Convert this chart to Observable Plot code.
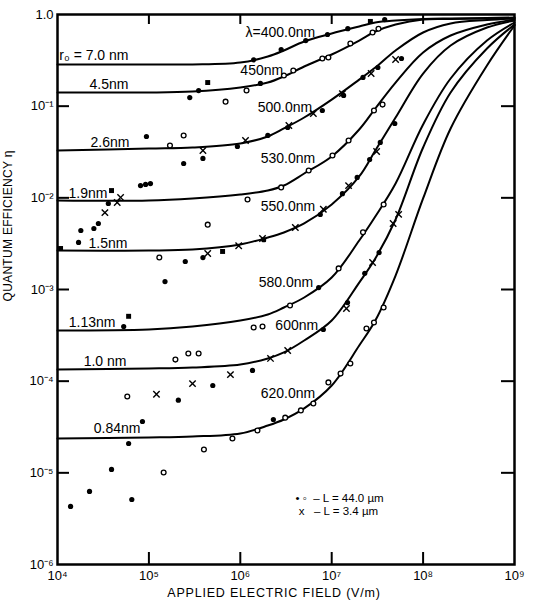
<!DOCTYPE html>
<html>
<head>
<meta charset="utf-8">
<script src="https://cdn.jsdelivr.net/npm/d3@7"></script>
<script src="https://cdn.jsdelivr.net/npm/@observablehq/plot@0.6"></script>
<style>
  html, body { margin: 0; padding: 0; background: #fff; }
  #chart svg { display: block; }
</style>
</head>
<body>
<div id="chart"></div>
<script>
// Applied electric field (V/m) at which each Onsager curve is sampled
const fields = [1e4, 1e5, 3e5, 1e6, 2e6, 3e6, 5e6, 1e7, 2e7, 3e7, 5e7, 1e8, 2e8, 5e8, 1e9];

// Quantum efficiency along each curve (one array per thermalization radius r0)
const eta_r70  = [0.285, 0.285, 0.285, 0.299, 0.348, 0.405, 0.508, 0.62, 0.74, 0.818, 0.86, 0.893, 0.905, 0.916, 0.927];
const eta_r45  = [0.141, 0.141, 0.1445, 0.16, 0.181, 0.211, 0.271, 0.366, 0.52, 0.652, 0.778, 0.882, 0.893, 0.905, 0.916];
const eta_r26  = [0.0328, 0.0345, 0.0354, 0.0392, 0.0467, 0.0571, 0.0752, 0.118, 0.195, 0.264, 0.405, 0.636, 0.798, 0.871, 0.905];
const eta_r19  = [0.00935, 0.00935, 0.00984, 0.01087, 0.01202, 0.01363, 0.01842, 0.02825, 0.0556, 0.0943, 0.181, 0.385, 0.59, 0.778, 0.882];
const eta_r15  = [0.00266, 0.00266, 0.00273, 0.0031, 0.00369, 0.00419, 0.00525, 0.00846, 0.0171, 0.0328, 0.0752, 0.227, 0.459, 0.721, 0.86];
const eta_r113 = [3.57e-4, 3.66e-4, 3.95e-4, 4.59e-4, 5.34e-4, 6.36e-4, 8.18e-4, 1.35e-3, 3.42e-3, 6.26e-3, 0.01433, 0.0631, 0.2003, 0.52, 0.818];
const eta_r10  = [1.34e-4, 1.375e-4, 1.41e-4, 1.52e-4, 1.77e-4, 2.06e-4, 2.78e-4, 4.59e-4, 1.19e-3, 2.18e-3, 5.8e-3, 0.0354, 0.141, 0.426, 0.778];
const eta_r084 = [2.37e-5, 2.43e-5, 2.49e-5, 2.69e-5, 3.28e-5, 3.82e-5, 5.04e-5, 8.97e-5, 2.45e-4, 4.59e-4, 1.42e-3, 9.84e-3, 0.0571, 0.278, 0.759];

// Curve labels: radius on the left, excitation wavelength along the rise
const radiusLabels = ["r\u2080 = 7.0 nm", "4.5nm", "2.6nm", "1.9nm", "1.5nm", "1.13nm", "1.0 nm", "0.84nm"];
const wavelengthLabels = ["\u03bb=400.0nm", "450nm", "500.0nm", "530.0nm", "550.0nm", "580.0nm", "600nm", "620.0nm"];

// Measured points [field V/m, efficiency]
// L = 44.0 µm, filled circles
const measFilled = [
  [1.4e6,0.32],[2.8e6,0.415],[5.2e6,0.52],[9.0e6,0.605],[1.5e7,0.70],[3.8e7,0.88],
  [3.5e5,0.148],[2.8e5,0.124],[1.66e6,0.177],
  [9.4e4,0.0467],[3.9e5,0.0269],[2.4e5,0.0237],[9.3e5,0.0363],[2.0e6,0.0479],[3.3e6,0.0585],
  [7.9e6,0.0897],[1.35e7,0.131],[2.2e7,0.206],[3.2e7,0.264],[5.8e7,0.331],
  [8.1e4,0.0136],[9.2e4,0.014],[1.04e5,0.0143],
  [3.6e4,0.00867],[1.8e4,0.0044],[2.5e4,0.00463],[2.8e4,0.00525],[1.7e4,0.00326],
  [2.5e5,0.00202],[3.9e5,0.00223],[1.5e5,0.00122],
  [5.3e4,3.95e-4],[1.36e6,1.31e-4],[5.0e5,8.97e-5],[2.1e5,6.2e-5],
  [8.5e4,3.63e-5],[6.0e4,2.09e-5],[3.9e4,1.09e-5],[2.24e4,6.27e-6],[6.5e4,5.12e-6],[1.39e4,4.3e-6],
  [7.2e6,1.05e-3],[8.1e6,3.66e-4],[1.49e7,7.2e-4],[2.3e7,1.5e-3],[3.3e7,2.53e-3],[2.3e6,3.82e-5],
  [1.8e6,3.5e-3],[7.5e6,6.58e-3],[1.31e7,0.0111],[1.9e7,0.0167],[2.6e7,0.0262],[3.4e7,0.0402],[4.9e7,0.0647]
];
// L = 44.0 µm, open circles
const measOpen = [
  [6.9e5,0.112],[1.17e6,0.148],[3.0e6,0.216],[3.8e6,0.245],[7.9e6,0.331],[9.2e6,0.34],
  [1.6e7,0.483],[2.8e7,0.636],[3.25e7,0.70],
  [2.4e5,0.0479],[1.7e5,0.0372],
  [4.4e5,5.1e-3],[1.2e6,9.6e-3],[1.3e5,2.23e-3],
  [2.8e6,0.013],[5.6e6,0.0199],[1.02e7,0.029],[1.53e7,0.0422],[2.9e7,0.0897],[3.6e7,0.104],
  [1.4e6,3.85e-4],[1.75e6,3.95e-4],[3.5e6,6.7e-4],[1.19e7,1.7e-3],[2.2e7,4.2e-3],[3.7e7,8.46e-3],
  [1.95e5,1.72e-4],[2.7e5,2.0e-4],[3.5e5,2.0e-4],
  [5.8e4,6.8e-5],
  [4.0e5,1.8e-5],[8.2e5,2.37e-5],[1.54e6,2.9e-5],[1.45e5,1.01e-5],
  [3.1e6,4.0e-5],[4.6e6,4.8e-5],[6.3e6,5.7e-5],[9.2e6,9.7e-5],[1.25e7,1.21e-4],[1.6e7,1.56e-4],
  [2.4e7,3.76e-4],[2.9e7,4.37e-4],[3.7e7,6.36e-4]
];
// L = 44.0 µm, filled squares
const measSquare = [
  [4.4e5,0.181],[2.65e7,0.84],[3.9e4,0.012],[1.08e4,2.8e-3],[6.4e5,2.6e-3],[6.0e4,5.1e-4]
];
// L = 3.4 µm, crosses
const measCross = [
  [3.9e5,0.0328],[1.14e6,0.0422],[3.4e6,0.0615],[6.3e6,0.0832],[1.31e7,0.137],[2.7e7,0.227],[5.0e7,0.323],
  [4.9e4,0.0101],[3.3e4,6.9e-3],[4.5e4,8.9e-3],
  [4.4e5,2.47e-3],[9.6e5,3.0e-3],[1.75e6,3.6e-3],[4.0e6,4.75e-3],[8.1e6,7.5e-3],[1.53e7,0.0136],[3.1e7,0.032],
  [7.8e5,1.18e-4],[2.14e6,1.77e-4],[3.3e6,2.16e-4],[1.45e7,6.2e-4],[2.8e7,1.97e-3],[4.7e7,5.25e-3],[5.4e7,6.6e-3],
  [3.0e5,9.4e-5],[1.21e5,7.2e-5]
];

// Axis ticks
const xTicks = [1e4, 1e5, 1e6, 1e7, 1e8, 1e9];
const yTicks = [1e-6, 1e-5, 1e-4, 1e-3, 1e-2, 1e-1, 1];
const xInnerTicks = [1e5, 1e6, 1e7, 1e8];
const yInnerTicks = [1e-5, 1e-4, 1e-3, 1e-2, 1e-1];

const legendLines = ["\u2022\u00a0\u25e6\u00a0\u00a0\u2013 L = 44.0 \u00b5m", "\u00a0x\u00a0\u00a0\u00a0\u2013 L = 3.4 \u00b5m"];
const xTitle = "APPLIED ELECTRIC FIELD (V/m)";
const yTitle = "QUANTUM EFFICIENCY \u03b7";

// ---- layout ----
const W = 537, H = 608;
const mTop = 14, mRight = 23, mBottom = 44, mLeft = 57;
const innerW = W - mLeft - mRight;
const innerH = H - mTop - mBottom;

const supMap = {"-": "\u207b", "0": "\u2070", "1": "\u00b9", "2": "\u00b2", "3": "\u00b3", "4": "\u2074",
  "5": "\u2075", "6": "\u2076", "7": "\u2077", "8": "\u2078", "9": "\u2079"};
const pow10 = d => "10" + String(Math.round(Math.log10(d))).split("").map(c => supMap[c]).join("");
const fmtY = d => d === 1 ? "1.0" : pow10(d);

const series = [eta_r70, eta_r45, eta_r26, eta_r19, eta_r15, eta_r113, eta_r10, eta_r084];
const curveRows = series.flatMap((vals, k) => fields.map((E, i) => ({curve: k, E, eta: vals[i]})));

// label offsets (px) from the anchoring curve point
const radiusOffsets = [[71, -9], [71, -8], [72, -8], [50, -7], [70, -7], [58, -8], [69, -8], [83, -10]];
const waveOffsets = [[11, -9], [-21, 4], [8, -10], [11, -15], [11, -17], [9, -15], [14, -15], [11, -15]];
const waveIdx = fields.indexOf(5e6);

const font = "'Liberation Sans', Arial, Helvetica, sans-serif";

const radiusText = series.map((vals, k) =>
  Plot.text([{E: fields[0], eta: vals[0], t: radiusLabels[k]}], {
    x: "E", y: "eta", text: "t", textAnchor: "end",
    dx: radiusOffsets[k][0], dy: radiusOffsets[k][1], fontSize: 14, fill: "#000"
  }));
const waveText = series.map((vals, k) =>
  Plot.text([{E: fields[waveIdx], eta: vals[waveIdx], t: wavelengthLabels[k]}], {
    x: "E", y: "eta", text: "t", textAnchor: "end",
    dx: waveOffsets[k][0], dy: waveOffsets[k][1], fontSize: 14, fill: "#000"
  }));

const chart = Plot.plot({
  width: W, height: H,
  marginTop: mTop, marginRight: mRight, marginBottom: mBottom, marginLeft: mLeft,
  style: {fontFamily: font, fontSize: "13px", color: "#000", background: "#fff"},
  x: {type: "log", domain: [1e4, 1e9]},
  y: {type: "log", domain: [1e-6, 1]},
  marks: [
    Plot.axisX({anchor: "bottom", ticks: xTicks, tickSize: 0, tickPadding: 6, tickFormat: pow10, label: null, fontSize: 13}),
    Plot.axisY({anchor: "left", ticks: yTicks, tickSize: 0, tickPadding: 4, tickFormat: fmtY, label: null, fontSize: 13}),
    // inward ticks on all four sides
    Plot.tickY(yInnerTicks, {y: d => d, insetRight: innerW - 12, strokeWidth: 2, stroke: "#000"}),
    Plot.tickY(yInnerTicks, {y: d => d, insetLeft: innerW - 13, strokeWidth: 2, stroke: "#000"}),
    Plot.tickX(xInnerTicks, {x: d => d, insetBottom: innerH - 10, strokeWidth: 2, stroke: "#000"}),
    Plot.tickX(xInnerTicks, {x: d => d, insetTop: innerH - 12, strokeWidth: 2, stroke: "#000"}),
    Plot.frame({stroke: "#000", strokeWidth: 2.5}),
    // theoretical curves
    Plot.line(curveRows, {x: "E", y: "eta", z: "curve", curve: "catmull-rom", stroke: "#000", strokeWidth: 2}),
    // measurements
    Plot.dot(measOpen, {x: d => d[0], y: d => d[1], r: 2.4, fill: "#fff", stroke: "#000", strokeWidth: 1.3}),
    Plot.dot(measFilled, {x: d => d[0], y: d => d[1], r: 2.6, fill: "#000", stroke: "none"}),
    Plot.dot(measSquare, {x: d => d[0], y: d => d[1], r: 2.8, symbol: "square", fill: "#000", stroke: "none"}),
    Plot.dot(measCross, {x: d => d[0], y: d => d[1], r: 3, symbol: "times", stroke: "#000", strokeWidth: 1.4}),
    ...radiusText,
    ...waveText,
    // legend, two lines
    Plot.text([legendLines[0]], {frameAnchor: "bottom-left", text: d => d, textAnchor: "start",
      dx: 238, dy: -63, fontSize: 11.5, fill: "#000"}),
    Plot.text([legendLines[1]], {frameAnchor: "bottom-left", text: d => d, textAnchor: "start",
      dx: 238, dy: -50, fontSize: 11.5, fill: "#000"}),
    // axis titles
    Plot.text([xTitle], {frameAnchor: "bottom", text: d => d, dx: -12, dy: 32, fontSize: 12.5, fill: "#000"}),
    Plot.text([yTitle], {frameAnchor: "left", text: d => d, rotate: -90, dx: -49, dy: 12, fontSize: 12, fill: "#000"})
  ]
});

// spaced capitals for the two axis titles
d3.select(chart).selectAll("text")
  .filter(function() { return this.textContent === xTitle; })
  .style("letter-spacing", "0.8px");
d3.select(chart).selectAll("text")
  .filter(function() { return this.textContent === yTitle; })
  .style("letter-spacing", "0.3px");
document.getElementById("chart").appendChild(chart);
</script>
</body>
</html>
